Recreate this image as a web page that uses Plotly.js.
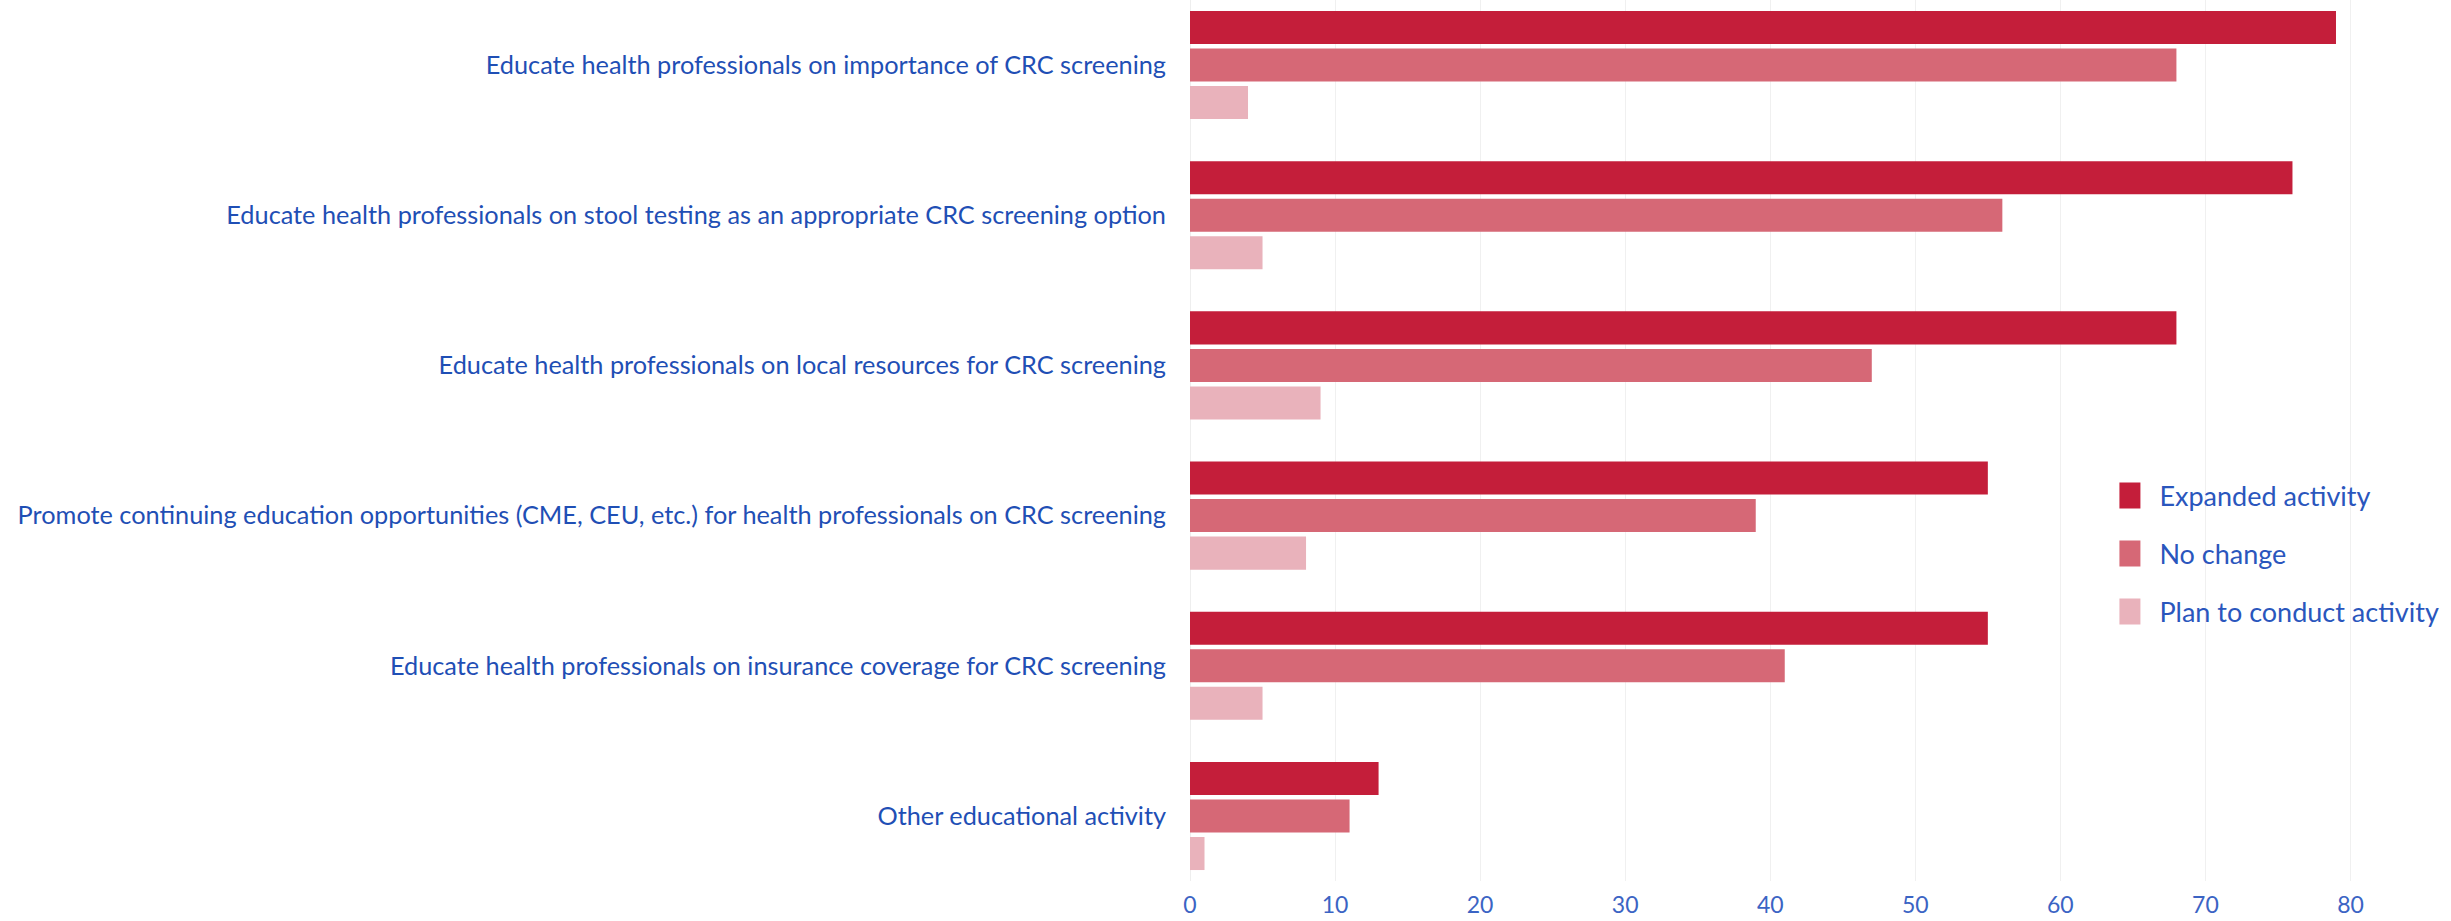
<!DOCTYPE html>
<html>
<head>
<meta charset="utf-8">
<script src="https://cdn.plot.ly/plotly-3.0.1.min.js"></script>
<style>html,body{margin:0;padding:0;background:#fff;}#chart{width:2451px;height:921px;}</style>
</head>
<body>
<div id="chart"></div>
<script>
const categories = [
  "Educate health professionals on importance of CRC screening",
  "Educate health professionals on stool testing as an appropriate CRC screening option",
  "Educate health professionals on local resources for CRC screening",
  "Promote continuing education opportunities (CME, CEU, etc.) for health professionals on CRC screening",
  "Educate health professionals on insurance coverage for CRC screening",
  "Other educational activity"
];
const seriesNames = ["Expanded activity", "No change", "Plan to conduct activity"];
const expandedActivity = [79, 76, 68, 55, 55, 13];
const noChange = [68, 56, 47, 39, 41, 11];
const planToConduct = [4, 5, 9, 8, 5, 1];
const tickValues = [0, 10, 20, 30, 40, 50, 60, 70, 80];

const colors = ["#c41e3a", "#d66876", "#e9b2bb"];
const values = [expandedActivity, noChange, planToConduct];

const traces = values.map((v, i) => ({
  type: "bar",
  orientation: "h",
  name: seriesNames[i],
  y: categories,
  x: v,
  legendgroup: "g" + i,
  marker: {color: colors[i], line: {width: 0}},
  hoverinfo: "x+name"
}));

const layout = {
  width: 2451,
  height: 921,
  margin: {l: 1190, r: 86, t: 0, b: 40},
  paper_bgcolor: "#ffffff",
  plot_bgcolor: "#ffffff",
  font: {family: "Lato, 'Noto Sans', sans-serif", color: "#1f4fb5", size: 25},
  barmode: "group",
  bargap: 0.25,
  bargroupgap: 0.12,
  showlegend: true,
  legend: {
    x: 0.791, y: 0.465, xanchor: "left", yanchor: "top",
    font: {size: 27, color: "#2a56bd"},
    traceorder: "grouped",
    tracegroupgap: 20,
    bgcolor: "rgba(0,0,0,0)"
  },
  xaxis: {
    range: [0, 81],
    tickvals: tickValues,
    ticktext: tickValues.map(String),
    showgrid: true,
    gridcolor: "#f0f0f0",
    gridwidth: 1,
    zeroline: true,
    zerolinecolor: "#eeeeee",
    zerolinewidth: 1,
    showline: false,
    ticks: "",
    tickfont: {size: 23, color: "#3b64c4"},
    ticklabelstandoff: 8
  },
  yaxis: {
    type: "category",
    range: [5.433, -0.433],
    showgrid: false,
    zeroline: false,
    showline: false,
    ticks: "",
    tickfont: {size: 25.3, color: "#1f4fb5"},
    ticklabelstandoff: 23
  }
};

Plotly.newPlot("chart", traces, layout, {staticPlot: true}).then(() => {
  document.querySelectorAll(".legend .legendpoints path").forEach(p => {
    p.setAttribute("d", "M1,13H-25V-13H1Z");
  });
});
</script>
</body>
</html>
